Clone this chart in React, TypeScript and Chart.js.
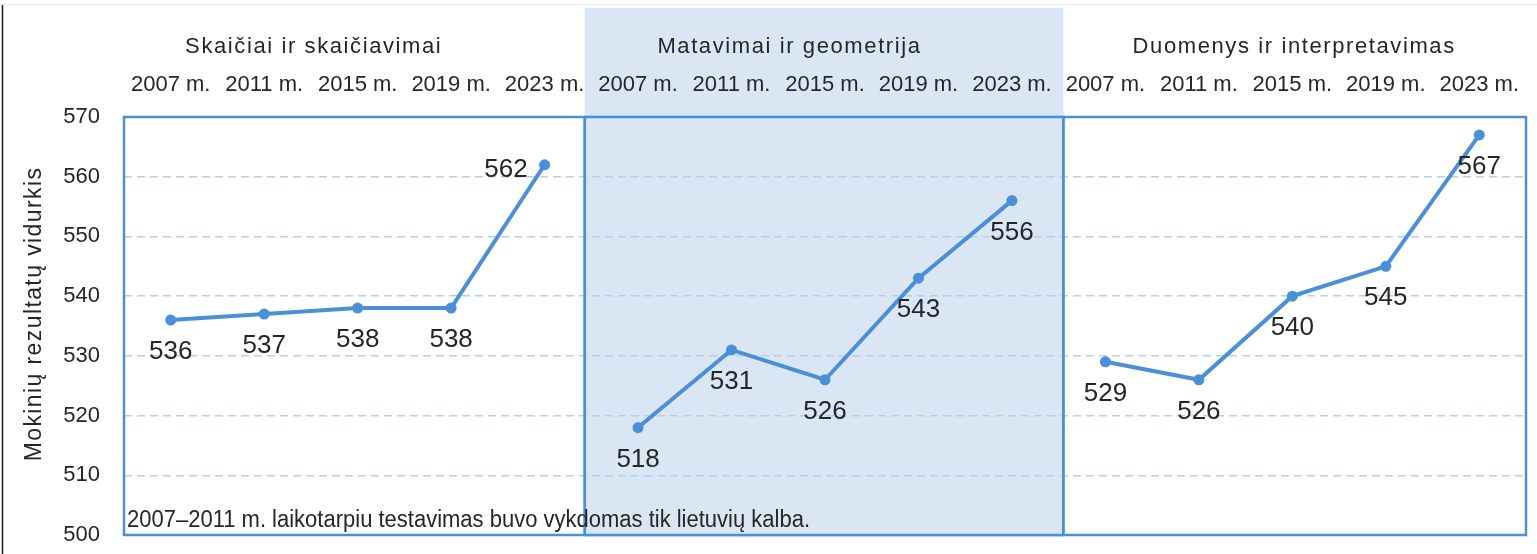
import React, { useEffect, useRef } from 'react';
import { Chart, registerables } from 'chart.js';

Chart.register(...registerables);

// ---- data ----
const years = ['2007 m.', '2011 m.', '2015 m.', '2019 m.', '2023 m.'];
const panelTitles = ['Skaičiai ir skaičiavimai', 'Matavimai ir geometrija', 'Duomenys ir interpretavimas'];
const numbersScores = [536, 537, 538, 538, 562];
const measurementScores = [518, 531, 526, 543, 556];
const dataScores = [529, 526, 540, 545, 567];
const yMin = 500;
const yMax = 570;
const yStep = 10;
const yTitle = 'Mokinių rezultatų vidurkis';
const footnote = '2007–2011 m. laikotarpiu testavimas buvo vykdomas tik lietuvių kalba.';

// ---- style ----
const FONT = '"Liberation Sans", Arial, sans-serif';
const TEXT = '#262626';
const LINE = '#4a8fd8';
const GRID = '#b5cfee';
const SHADE = '#dae6f4';
const panelBounds = [-0.5, 4.43, 9.55, 14.5];
const titleAnchors = [1.53, 6.62, 12.02];
const labelSides = [
  ['below', 'below', 'below', 'below', 'left'],
  ['below', 'below', 'below', 'below', 'below'],
  ['below', 'below', 'below', 'below', 'below'],
];

const allLabels = [...years, ...years, ...years];
const seriesList = [numbersScores, measurementScores, dataScores];

function spread(values: number[], panel: number): (number | null)[] {
  const out: (number | null)[] = new Array(allLabels.length).fill(null);
  values.forEach((v, i) => {
    out[panel * years.length + i] = v;
  });
  return out;
}

const decorPlugin = {
  id: 'decor',
  beforeDraw(chart: any) {
    const { ctx, scales } = chart;
    const x = scales.x;
    ctx.save();
    ctx.fillStyle = '#ffffff';
    ctx.fillRect(0, 0, chart.width, chart.height);
    const x0 = x.getPixelForValue(panelBounds[1]);
    const x1 = x.getPixelForValue(panelBounds[2]);
    ctx.fillStyle = SHADE;
    ctx.fillRect(x0, 8, x1 - x0, chart.chartArea.bottom + 2 - 8);
    // outer frame lines
    ctx.strokeStyle = '#ececec';
    ctx.lineWidth = 1;
    ctx.beginPath();
    ctx.moveTo(0, 4.5);
    ctx.lineTo(chart.width, 4.5);
    ctx.stroke();
    ctx.strokeStyle = '#1a1a1a';
    ctx.lineWidth = 1.5;
    ctx.beginPath();
    ctx.moveTo(2.5, 5);
    ctx.lineTo(2.5, chart.height);
    ctx.stroke();
    ctx.restore();
  },
  beforeDatasetsDraw(chart: any) {
    const { ctx, scales, chartArea } = chart;
    const x = scales.x;
    ctx.save();
    ctx.strokeStyle = LINE;
    ctx.lineWidth = 2.5;
    for (let p = 0; p < 3; p++) {
      const a = x.getPixelForValue(panelBounds[p]);
      const b = x.getPixelForValue(panelBounds[p + 1]);
      ctx.strokeRect(a, chartArea.top, b - a, chartArea.bottom - chartArea.top);
    }
    ctx.restore();
  },
  afterDatasetsDraw(chart: any) {
    const { ctx, scales, chartArea } = chart;
    const x = scales.x;
    ctx.save();
    // data labels
    ctx.fillStyle = TEXT;
    ctx.font = `26px ${FONT}`;
    ctx.textBaseline = 'middle';
    chart.data.datasets.forEach((ds: any, di: number) => {
      const meta = chart.getDatasetMeta(di);
      let k = 0;
      ds.data.forEach((v: number | null, i: number) => {
        if (v == null) return;
        const pt = meta.data[i];
        const side = labelSides[di][k++];
        const txt = String(v);
        if (side === 'left') {
          ctx.textAlign = 'right';
          ctx.fillText(txt, pt.x - 17, pt.y + 5);
        } else {
          ctx.textAlign = 'center';
          ctx.fillText(txt, pt.x, pt.y + 32);
        }
      });
    });
    // panel titles
    ctx.font = `22px ${FONT}`;
    ctx.textAlign = 'center';
    (ctx as any).letterSpacing = '1.6px';
    panelTitles.forEach((t, i) => {
      ctx.fillText(t, x.getPixelForValue(titleAnchors[i]), 47);
    });
    // y title
    ctx.save();
    ctx.translate(35, 314);
    ctx.rotate(-Math.PI / 2);
    ctx.font = `23px ${FONT}`;
    (ctx as any).letterSpacing = '1.4px';
    ctx.textAlign = 'center';
    ctx.fillText(yTitle, 0, 0);
    ctx.restore();
    (ctx as any).letterSpacing = '0px';
    // footnote (condensed)
    ctx.save();
    ctx.font = `23px ${FONT}`;
    (ctx as any).letterSpacing = '0px';
    ctx.textAlign = 'left';
    const w = ctx.measureText(footnote).width;
    const target = 683;
    ctx.translate(chartArea.left + 3, 521);
    ctx.scale(target / w, 1);
    ctx.fillText(footnote, 0, 0);
    ctx.restore();
    ctx.restore();
  },
};

export default function App() {
  const ref = useRef<HTMLCanvasElement | null>(null);
  useEffect(() => {
    if (!ref.current) return;
    const chart = new Chart(ref.current, {
      type: 'line',
      data: {
        labels: allLabels,
        datasets: seriesList.map((s, p) => ({
          label: panelTitles[p],
          data: spread(s, p),
          borderColor: LINE,
          backgroundColor: LINE,
          borderWidth: 4,
          pointRadius: 5.5,
          pointBorderWidth: 0,
          pointBackgroundColor: LINE,
          spanGaps: false,
          tension: 0,
        })),
      },
      options: {
        animation: false,
        responsive: true,
        maintainAspectRatio: false,
        layout: { padding: { left: 0, right: 11, top: 0, bottom: 19 } },
        plugins: {
          legend: { display: false },
          tooltip: { enabled: false },
        },
        scales: {
          x: {
            type: 'category',
            position: 'top',
            offset: true,
            grid: { display: false, drawTicks: false, offset: true },
            border: { display: false },
            ticks: {
              color: TEXT,
              font: { family: FONT, size: 22 },
              padding: 19,
              autoSkip: false,
              maxRotation: 0,
              minRotation: 0,
            },
            afterFit(scale: any) {
              scale.height = 117;
              scale.paddingLeft = 0;
              scale.paddingRight = 0;
            },
          },
          y: {
            min: yMin,
            max: yMax,
            grid: {
              drawTicks: false,
              color: (c: any) =>
                c.tick && (c.tick.value === yMin || c.tick.value === yMax) ? 'rgba(0,0,0,0)' : GRID,
              lineWidth: 1.5,
            },
            border: { display: false, dash: [8, 5] },
            ticks: {
              stepSize: yStep,
              color: TEXT,
              font: { family: FONT, size: 22 },
              padding: 24,
            },
            afterFit(scale: any) {
              scale.width = 124;
              scale.paddingTop = 0;
              scale.paddingBottom = 0;
            },
          },
        },
      } as any,
      plugins: [decorPlugin],
    });
    return () => chart.destroy();
  }, []);
  return (
    <div style={{ position: 'fixed', left: 0, top: 0, width: 1537, height: 554, background: '#fff' }}>
      <canvas ref={ref} />
    </div>
  );
}
